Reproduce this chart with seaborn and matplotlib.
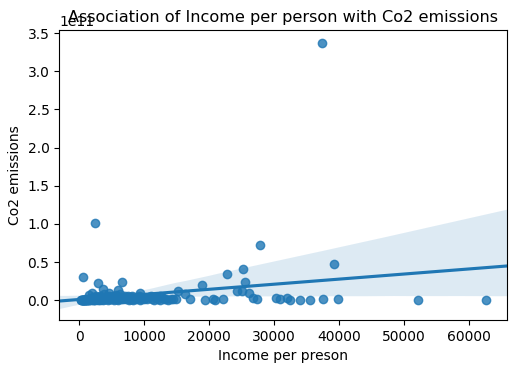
import numpy as np
import pandas as pd
import seaborn as sns
import matplotlib
matplotlib.use("Agg")
import matplotlib.pyplot as plt

# gelir (kişi başı) ve co2 emisyonu (milyar ton cinsinden okundu)
income = [
    # belirgin noktalar
    37400, 2460, 27850, 39200, 25200, 22800, 620, 2900, 6600, 25500,
    18900, 3700, 6000, 15200, 24300, 25100, 16300, 26200, 4600, 2000,
    9400, 11000, 12500, 8200, 1500, 7500,
    # alt sıra (yüksek gelir, düşük co2)
    14500, 14900, 17100, 19400, 20600, 20900, 22200, 26800, 27400, 30300,
    30900, 32000, 32500, 34000, 35500, 37500, 39800, 52200, 62600,
    # yoğun küme
    280, 350, 420, 480, 520, 560, 600, 650, 700, 760,
    820, 880, 930, 990, 1050, 1100, 1180, 1250, 1320, 1400,
    1480, 1560, 1650, 1750, 1850, 1950,
    2050, 2120, 2200, 2280, 2350, 2430, 2500, 2580, 2650, 2720,
    2800, 2880, 2950, 3030, 3100, 3180, 3260, 3340, 3420, 3500,
    3580, 3660, 3750, 3830, 3920, 4000, 4100, 4200, 4300, 4420,
    4550, 4680, 4800, 4920,
    5050, 5200, 5350, 5480, 5620, 5750, 5900, 6050, 6200, 6350,
    6500, 6650, 6800, 6950, 7100, 7250, 7400, 7600, 7800, 8000,
    8150, 8350, 8550, 8750, 8950, 9150, 9300, 9500, 9700, 9900,
    10200, 10500, 10800, 11200, 11500, 11800, 12100, 12400, 12700, 13000,
    13300, 13700, 14100,
]
co2_bn = [
    337, 101, 72, 47, 41, 34, 30, 22, 24, 24,
    20, 14, 13, 12, 12, 12, 8, 9, 9, 9,
    9, 6, 5, 6, 7, 5,
    2, 1.5, 1, 0.8, 1.2, 0.6, 1.5, 3, 1, 2.5,
    1.8, 2.2, 0.8, 0.5, 0.7, 1.5, 1.2, 0.4, 0.5,
    0.1, 0.2, 0.05, 0.3, 0.1, 0.4, 0.2, 0.15, 0.5, 0.3,
    0.1, 0.6, 0.2, 0.35, 1.2, 0.4, 0.25, 0.8, 0.5, 2.1,
    0.3, 0.7, 1.5, 0.4, 3.0, 0.9,
    1.8, 0.5, 2.5, 0.7, 4.0, 1.1, 0.3, 2.2, 5.5, 0.9,
    1.6, 3.4, 0.6, 2.8, 1.3, 6.0, 0.8, 2.0, 4.5, 1.0,
    3.1, 0.5, 7.5, 1.7, 2.6, 0.9, 4.2, 1.4, 3.3, 0.7,
    5.0, 2.1, 1.0, 3.8,
    1.5, 4.8, 0.8, 2.9, 6.5, 1.2, 3.5, 0.6, 2.4, 8.0,
    1.8, 4.0, 0.9, 2.7, 5.2, 1.1, 3.0, 0.7, 2.0, 4.4,
    1.3, 0.5, 3.2, 1.0, 2.2, 5.8, 0.8, 1.6, 3.6, 0.9,
    2.5, 1.0, 4.0, 1.5, 0.7, 2.8, 1.2, 0.6, 3.5, 1.0,
    2.0, 0.8, 1.5,
]

df = pd.DataFrame({"incomeperperson": income,
                   "co2emissions": np.array(co2_bn) * 1e9})

fig = plt.figure(figsize=(5.19, 3.71), dpi=100)
ax = fig.add_axes([0.114, 0.1375, 0.863, 0.7815])
ax.set_xlim(-3080, 65850)
sns.regplot(x="incomeperperson", y="co2emissions", data=df, ax=ax,
            truncate=False, seed=1)
ax.set_ylim(-0.26e11, 3.54e11)
ax.set_xlabel("Income per preson")
ax.set_ylabel("Co2 emissions")
# y verilince başlık 1e11 yazısının üstüne kaymıyor (orijinaldeki gibi)
ax.set_title("Association of Income per person with Co2 emissions", y=1.0,
             fontsize=11.6)

plt.savefig("out.png", dpi=100)
